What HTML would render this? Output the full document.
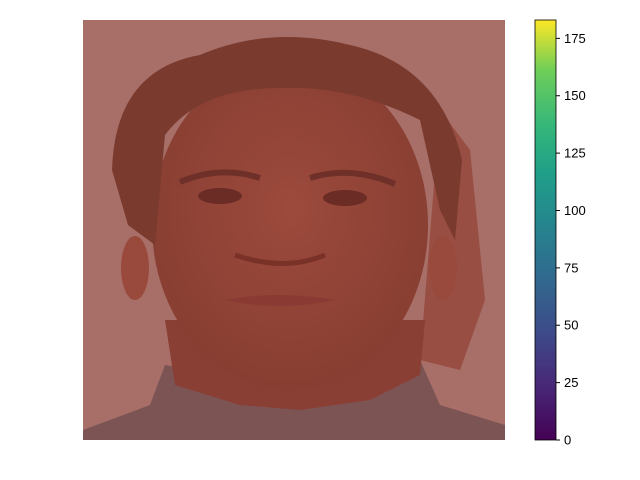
<!DOCTYPE html>
<html><head><meta charset="utf-8"><style>
body{margin:0;background:#fff;}
svg{display:block;font-family:"Liberation Sans",sans-serif;}
</style></head><body>
<svg width="640" height="480" viewBox="0 0 640 480">
<defs>
<linearGradient id="vir" x1="0" y1="1" x2="0" y2="0">
<stop offset="0" stop-color="#440154"/><stop offset="0.13" stop-color="#482878"/>
<stop offset="0.25" stop-color="#3e4989"/><stop offset="0.38" stop-color="#31688e"/>
<stop offset="0.5" stop-color="#26828e"/><stop offset="0.63" stop-color="#1f9e89"/>
<stop offset="0.75" stop-color="#35b779"/><stop offset="0.88" stop-color="#6ece58"/>
<stop offset="1" stop-color="#fde725"/></linearGradient>
<radialGradient id="faceg" cx="0.5" cy="0.45" r="0.6"><stop offset="0" stop-color="#9c4a3c"/><stop offset="1" stop-color="#863d31"/></radialGradient>
</defs>
<g>
<rect x="83" y="20" width="422" height="420" fill="#a86e68"/>
<path d="M440 110 L470 150 L485 300 L460 370 L420 360 Z" fill="#984e42"/>
<path d="M83 430 L150 405 L165 365 L300 385 L420 360 L440 405 L505 425 L505 440 L83 440 Z" fill="#7c5454"/>
<path d="M165 320 L175 385 L240 405 L300 410 L370 400 L420 375 L425 320 Z" fill="#8a3f34"/>
<ellipse cx="290" cy="225" rx="138" ry="165" fill="url(#faceg)"/>
<ellipse cx="135" cy="268" rx="14" ry="32" fill="#9a4a3c"/>
<ellipse cx="443" cy="268" rx="14" ry="32" fill="#9a4a3c"/>
<path d="M112 170 Q115 70 200 55 Q270 25 350 45 Q440 65 462 160 L455 240 L440 210 L420 120 Q350 85 280 88 Q200 88 165 135 L155 245 L128 225 Z" fill="#7a3a2e"/>
<ellipse cx="220" cy="196" rx="22" ry="8" fill="#6b2c26"/>
<ellipse cx="345" cy="198" rx="22" ry="8" fill="#6b2c26"/>
<path d="M180 182 Q220 165 260 178" stroke="#6e3028" stroke-width="6" fill="none"/>
<path d="M310 178 Q350 165 395 184" stroke="#6e3028" stroke-width="6" fill="none"/>
<path d="M235 255 Q285 272 325 255" stroke="#7a3228" stroke-width="5" fill="none"/>
<path d="M225 300 Q280 290 335 300 Q280 312 225 300 Z" fill="#8a3a32"/>
</g>
<g>
<rect x="535" y="20" width="21" height="420" fill="url(#vir)" stroke="#000" stroke-width="0.8"/>
<g id="ticks"></g>
</g>
<script>
const tickValues=[0,25,50,75,100,125,150,175];
const vmin=0, vmax=183;
const y=v=>440-(v-vmin)/(vmax-vmin)*420;
const g=document.getElementById('ticks');
const ns='http://www.w3.org/2000/svg';
tickValues.forEach(v=>{
 const l=document.createElementNS(ns,'line');
 l.setAttribute('x1',556);l.setAttribute('x2',560);l.setAttribute('y1',y(v));l.setAttribute('y2',y(v));l.setAttribute('stroke','#000');
 
 
 g.appendChild(l);
 const t=document.createElementNS(ns,'text');
 t.setAttribute('x',564);t.setAttribute('y',y(v)+4.5);t.setAttribute('font-size','13');
 t.textContent=v;
 
 
 g.appendChild(t);
});
</script>
</svg>
</body></html>
